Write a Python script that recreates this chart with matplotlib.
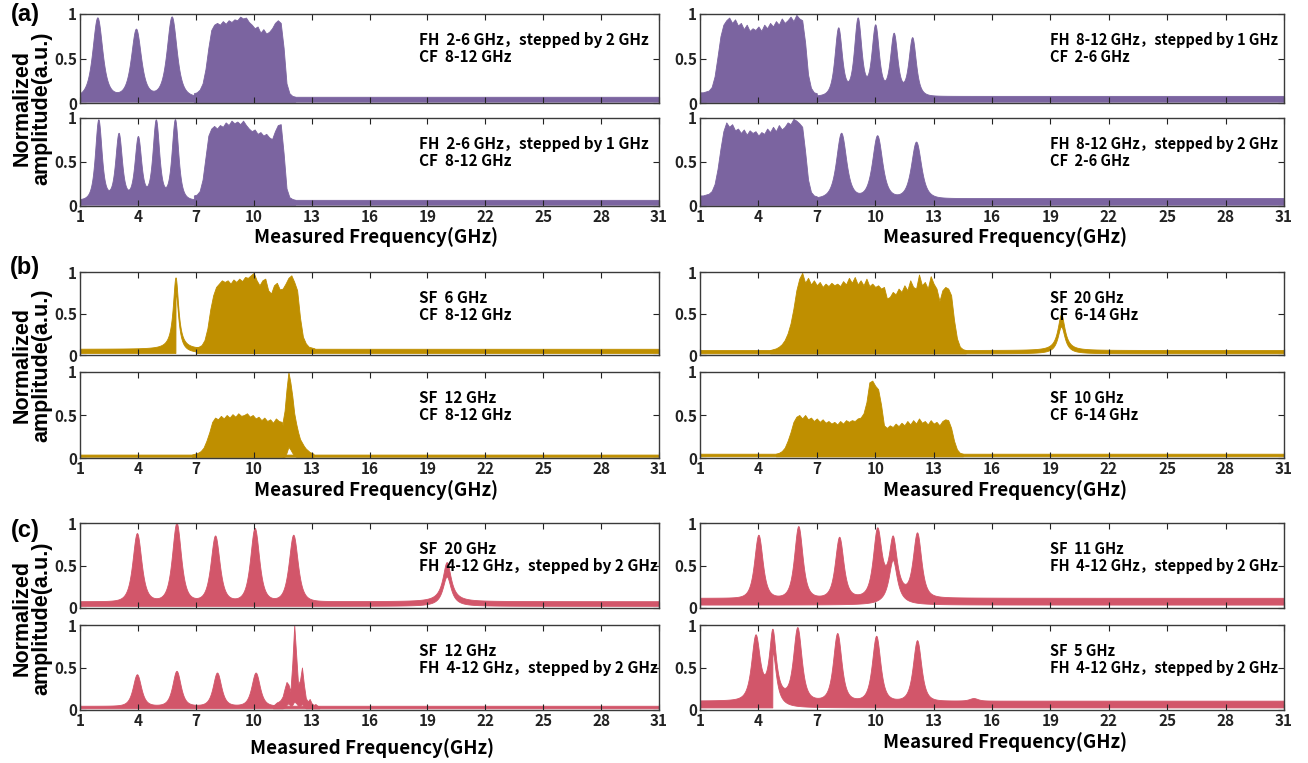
import numpy as np
import matplotlib.pyplot as plt

plt.rcParams['font.family'] = ['Noto Sans CJK SC', 'DejaVu Sans']
plt.rcParams['font.weight'] = 'bold'

PURPLE = '#7B64A0'
GOLD = '#BF8F00'
RED = '#D2566A'

FREQ_TICKS = [1, 4, 7, 10, 13, 16, 19, 22, 25, 28, 31]
AMP_TICKS = [0, 0.5, 1]
AMP_LABELS = ['0', '0.5', '1']

# ---- (a) frequency hopping + chirp bands ----
A1_PEAK_F = [1.9, 3.9, 5.75]
A1_PEAK_H = [0.89, 0.76, 0.90]
A1_BAND = [0.11, 0.12, 0.15, 0.22, 0.38, 0.62, 0.82, 0.88, 0.90, 0.88, 0.92, 0.89,
           0.93, 0.91, 0.94, 0.93, 0.97, 0.95, 0.96, 0.91, 0.88, 0.84, 0.86, 0.79,
           0.83, 0.78, 0.80, 0.84, 0.90, 0.93, 0.90, 0.62, 0.22, 0.11, 0.08, 0.07]

A2_PEAK_F = [1.95, 3.0, 4.0, 4.93, 5.92]
A2_PEAK_H = [0.91, 0.75, 0.71, 0.90, 0.91]
A2_BAND = [0.12, 0.13, 0.17, 0.30, 0.55, 0.80, 0.88, 0.91, 0.88, 0.92, 0.90, 0.95,
           0.92, 0.97, 0.94, 0.96, 0.93, 0.97, 0.92, 0.88, 0.85, 0.87, 0.82, 0.84,
           0.80, 0.82, 0.78, 0.76, 0.85, 0.92, 0.93, 0.60, 0.20, 0.10, 0.08, 0.07]

A3_PEAK_F = [8.1, 9.1, 10.0, 10.95, 11.9]
A3_PEAK_H = [0.76, 0.86, 0.78, 0.69, 0.65]
A3_BAND = [0.12, 0.12, 0.13, 0.14, 0.18, 0.30, 0.52, 0.75, 0.88, 0.93, 0.96, 0.90,
           0.94, 0.87, 0.90, 0.83, 0.88, 0.81, 0.84, 0.82, 0.86, 0.81, 0.88, 0.84,
           0.90, 0.86, 0.92, 0.88, 0.95, 0.90, 0.93, 0.97, 0.92, 0.99, 0.95, 0.93,
           0.68, 0.32, 0.17, 0.12, 0.11]

A4_PEAK_F = [8.25, 10.1, 12.1]
A4_PEAK_H = [0.74, 0.71, 0.64]
A4_BAND = [0.12, 0.12, 0.13, 0.14, 0.17, 0.25, 0.42, 0.65, 0.85, 0.95, 0.90, 0.93,
           0.86, 0.88, 0.83, 0.87, 0.81, 0.86, 0.83, 0.85, 0.80, 0.84, 0.82, 0.88,
           0.84, 0.90, 0.85, 0.92, 0.87, 0.90, 0.95, 0.93, 0.99, 0.97, 0.94, 0.90,
           0.62, 0.30, 0.16, 0.12, 0.11]

# ---- (b) single frequency + chirp bands ----
B1_BAND = [0.09, 0.10, 0.12, 0.18, 0.32, 0.55, 0.72, 0.82, 0.86, 0.90, 0.88, 0.90,
           0.86, 0.91, 0.88, 0.92, 0.89, 0.94, 0.93, 0.96, 0.99, 0.90, 0.84, 0.90,
           0.92, 0.78, 0.74, 0.84, 0.87, 0.79, 0.80, 0.86, 0.93, 0.96, 0.88, 0.78,
           0.45, 0.22, 0.14, 0.10, 0.09, 0.08]

B2_BAND = [0.04, 0.05, 0.06, 0.08, 0.12, 0.20, 0.30, 0.42, 0.47, 0.45, 0.49, 0.46,
           0.50, 0.47, 0.51, 0.48, 0.52, 0.49, 0.50, 0.52, 0.48, 0.50, 0.46, 0.48,
           0.44, 0.47, 0.43, 0.45, 0.41, 0.46, 0.43, 0.42, 0.30]
B2_SPIKE_F = [11.5, 11.6, 11.7, 11.8, 11.9, 12.0, 12.1, 12.2, 12.3, 12.4, 12.5,
              12.6, 12.7, 12.8, 12.9, 13.0, 13.1]
B2_SPIKE_HI = [0.42, 0.55, 0.80, 1.00, 0.88, 0.72, 0.52, 0.40, 0.30, 0.22, 0.18,
               0.14, 0.11, 0.09, 0.07, 0.06, 0.05]
B2_SPIKE_LO = [0.015, 0.02, 0.06, 0.13, 0.10, 0.06, 0.03, 0.015, 0.015, 0.015,
               0.015, 0.015, 0.015, 0.015, 0.015, 0.015, 0.015]

B3_BAND = [0.06, 0.07, 0.08, 0.10, 0.13, 0.18, 0.26, 0.38, 0.56, 0.78, 0.92, 0.99,
           0.87, 0.93, 0.85, 0.90, 0.84, 0.88, 0.82, 0.86, 0.83, 0.87, 0.84, 0.86,
           0.83, 0.89, 0.85, 0.93, 0.87, 0.94, 0.85, 0.90, 0.84, 0.92, 0.83, 0.86,
           0.82, 0.84, 0.80, 0.82, 0.68, 0.70, 0.76, 0.73, 0.80, 0.76, 0.84, 0.78,
           0.90, 0.82, 0.80, 0.97, 0.84, 0.88, 0.80, 0.95, 0.86, 0.80, 0.65, 0.78,
           0.82, 0.80, 0.72, 0.42, 0.20, 0.10, 0.07, 0.06]

B4_BAND = [0.05, 0.06, 0.08, 0.12, 0.20, 0.30, 0.42, 0.48, 0.50, 0.46, 0.50, 0.45,
           0.47, 0.43, 0.46, 0.42, 0.45, 0.41, 0.43, 0.40, 0.42, 0.39, 0.43, 0.40,
           0.44, 0.42, 0.44, 0.43, 0.46, 0.47, 0.52, 0.65, 0.88, 0.90, 0.84, 0.80,
           0.62, 0.38, 0.35, 0.38, 0.36, 0.40, 0.37, 0.41, 0.38, 0.43, 0.39, 0.44,
           0.40, 0.46, 0.41, 0.43, 0.39, 0.44, 0.40, 0.42, 0.38, 0.43, 0.45, 0.44,
           0.35, 0.20, 0.10, 0.06, 0.05]

# ---- (c) single frequency + frequency hopping ----
C1_PEAK_F = [3.95, 6.0, 8.0, 10.05, 12.05]
C1_PEAK_H = [0.80, 0.92, 0.77, 0.86, 0.78]

C2_PEAK_F = [3.95, 6.0, 8.1, 10.1]
C2_PEAK_H = [0.37, 0.41, 0.39, 0.39]
C2_SPIKE_F = [11.0, 11.1, 11.2, 11.3, 11.4, 11.5, 11.6, 11.7, 11.8, 11.9, 12.0,
              12.1, 12.2, 12.3, 12.4, 12.5, 12.6, 12.7, 12.8, 12.9, 13.0, 13.1,
              13.2, 13.3, 13.4]
C2_SPIKE_HI = [0.05, 0.07, 0.09, 0.10, 0.12, 0.16, 0.25, 0.33, 0.30, 0.22, 0.55,
               1.00, 0.65, 0.30, 0.35, 0.50, 0.30, 0.14, 0.10, 0.13, 0.08, 0.06,
               0.07, 0.05, 0.04]
C2_SPIKE_LO = [0.02, 0.02, 0.02, 0.02, 0.02, 0.02, 0.03, 0.06, 0.08, 0.05, 0.06,
               0.10, 0.08, 0.05, 0.05, 0.07, 0.04, 0.02, 0.02, 0.02, 0.02, 0.02,
               0.02, 0.02, 0.02]

C3_PEAK_F = [4.0, 6.05, 8.15, 10.1, 12.15]
C3_PEAK_H = [0.74, 0.84, 0.71, 0.76, 0.74]

C4_PEAK_F = [3.85, 6.0, 8.05, 10.05, 12.15, 15.05]
C4_PEAK_H = [0.73, 0.84, 0.79, 0.76, 0.71, 0.03]

# single tones: centre, height, half width, hollow fraction, hollow side
B1_TONES = [(5.95, 0.86, 0.17, 0.85, 'right')]
B3_TONES = [(19.55, 0.43, 0.22, 0.75, 'both')]
C1_TONES = [(20.0, 0.46, 0.26, 0.75, 'both')]
C3_TONES = [(10.9, 0.70, 0.26, 0.75, 'both')]
C4_TONES = [(4.72, 0.82, 0.22, 0.8, 'right')]

PANELS = [
    dict(color=PURPLE, floor=(0.07, 0.015), peaks=(A1_PEAK_F, A1_PEAK_H, 0.3),
         bands=[(6.9, A1_BAND)], text=['FH  2-6 GHz，stepped by 2 GHz', 'CF  8-12 GHz']),
    dict(color=PURPLE, floor=(0.07, 0.015), peaks=(A2_PEAK_F, A2_PEAK_H, 0.2),
         bands=[(6.9, A2_BAND)], text=['FH  2-6 GHz，stepped by 1 GHz', 'CF  8-12 GHz']),
    dict(color=PURPLE, floor=(0.08, 0.015), peaks=(A3_PEAK_F, A3_PEAK_H, 0.22),
         bands=[(1.0, A3_BAND)], text=['FH  8-12 GHz，stepped by 1 GHz', 'CF  2-6 GHz']),
    dict(color=PURPLE, floor=(0.09, 0.015), peaks=(A4_PEAK_F, A4_PEAK_H, 0.3),
         bands=[(1.0, A4_BAND)], text=['FH  8-12 GHz，stepped by 2 GHz', 'CF  2-6 GHz']),
    dict(color=GOLD, floor=(0.075, 0.025), tones=B1_TONES,
         bands=[(7.0, B1_BAND)], text=['SF  6 GHz', 'CF  8-12 GHz']),
    dict(color=GOLD, floor=(0.04, 0.015), bands=[(6.8, B2_BAND)],
         spikes=[(B2_SPIKE_F, B2_SPIKE_HI, B2_SPIKE_LO)], text=['SF  12 GHz', 'CF  8-12 GHz']),
    dict(color=GOLD, floor=(0.06, 0.02), tones=B3_TONES,
         bands=[(4.6, B3_BAND)], text=['SF  20 GHz', 'CF  6-14 GHz']),
    dict(color=GOLD, floor=(0.05, 0.02), bands=[(4.9, B4_BAND)],
         text=['SF  10 GHz', 'CF  6-14 GHz']),
    dict(color=RED, floor=(0.08, 0.025), peaks=(C1_PEAK_F, C1_PEAK_H, 0.27), tones=C1_TONES,
         text=['SF  20 GHz', 'FH  4-12 GHz，stepped by 2 GHz']),
    dict(color=RED, floor=(0.05, 0.02), peaks=(C2_PEAK_F, C2_PEAK_H, 0.25),
         spikes=[(C2_SPIKE_F, C2_SPIKE_HI, C2_SPIKE_LO)],
         text=['SF  12 GHz', 'FH  4-12 GHz，stepped by 2 GHz']),
    dict(color=RED, floor=(0.12, 0.04), peaks=(C3_PEAK_F, C3_PEAK_H, 0.25), tones=C3_TONES,
         text=['SF  11 GHz', 'FH  4-12 GHz，stepped by 2 GHz']),
    dict(color=RED, floor=(0.11, 0.03), peaks=(C4_PEAK_F, C4_PEAK_H, 0.25), tones=C4_TONES,
         text=['SF  5 GHz', 'FH  4-12 GHz，stepped by 2 GHz']),
]

BAND_STEP = 0.15
W, H = 1308, 763
COLS = [(80, 659), (700, 1284)]
ROWS = [(14, 103), (118, 206), (272, 355), (372, 458), (523, 608), (625, 710)]
TEXT_X = [419, 1050]
TEXT_SIZE = [11, 10.5]


def line_shape(f, center, height, hwhm, power):
    w = hwhm / np.sqrt(2 ** (1 / power) - 1)
    return height / (1 + ((f - center) / w) ** 2) ** power


def draw_spectrum(ax, p):
    f = np.linspace(1, 31, 6001)
    hi, lo = p['floor']
    upper = np.full_like(f, hi)
    lower = np.full_like(f, lo)
    if 'peaks' in p:
        pf, ph, pw = p['peaks']
        for c, h in zip(pf, ph):
            upper += line_shape(f, c, h, pw, 2.0)
    # single tones are Lorentzian and drawn as a thick, hollow trace
    for c, h, w, r, side in p.get('tones', []):
        t = line_shape(f, c, h, w, 1.0)
        upper += t
        hollow = lo + r * t
        if side == 'right':
            hollow = np.where(f >= c, hollow, lo)
        lower = np.maximum(lower, hollow)
    kw = dict(color=p['color'], lw=0.6)
    ax.fill_between(f, lower, upper, **kw)
    for start, vals in p.get('bands', []):
        bf = start + BAND_STEP * np.arange(len(vals))
        ax.fill_between(bf, lo, vals, **kw)
    for sf, shi, slo in p.get('spikes', []):
        ax.fill_between(sf, slo, shi, **kw)


fig = plt.figure(figsize=(W / 100, H / 100), dpi=100)

for i, p in enumerate(PANELS):
    group, rest = divmod(i, 4)
    col, sub = divmod(rest, 2)
    x0, x1 = COLS[col]
    ytop, ybot = ROWS[group * 2 + sub]
    ax = fig.add_axes([x0 / W, 1 - ybot / H, (x1 - x0) / W, (ybot - ytop) / H])
    draw_spectrum(ax, p)
    ax.set_xlim(1, 31)
    ax.set_ylim(0, 1)
    ax.set_xticks(FREQ_TICKS)
    ax.set_yticks(AMP_TICKS)
    ax.set_yticklabels(AMP_LABELS)
    ax.tick_params(direction='in', top=True, right=True, length=4, width=0.8,
                   labelsize=11, pad=2, colors='#222222')
    if sub == 0:
        ax.tick_params(labelbottom=False)
    for s in ax.spines.values():
        s.set_color('#3a3a3a')
        s.set_linewidth(1.0)
    ty = ytop + 26
    for k, line in enumerate(p['text']):
        fig.text(TEXT_X[col] / W, 1 - (ty + 17 * k) / H, line,
                 fontsize=TEXT_SIZE[col], va='center')

# axis titles and group letters
XLABEL_POS = [(376, 237), (1005, 237), (376, 490), (1005, 490), (372, 748), (1005, 742)]
for x, y in XLABEL_POS:
    fig.text(x / W, 1 - y / H, 'Measured Frequency(GHz)', fontsize=13.5,
             ha='center', va='center')

for letter, ylab, yletter in [('(a)', 108, 15), ('(b)', 365, 268), ('(c)', 618, 530)]:
    fig.text(32 / W, 1 - ylab / H, 'Normalized\namplitude(a.u.)', rotation=90,
             ha='center', va='center', fontsize=15.5, family='Liberation Sans',
             fontweight='bold', linespacing=0.95)
    fig.text(25 / W, 1 - yletter / H, letter, fontsize=17, family='Liberation Sans',
             fontweight='bold', ha='center', va='center')

fig.savefig('out.png', dpi=100)
